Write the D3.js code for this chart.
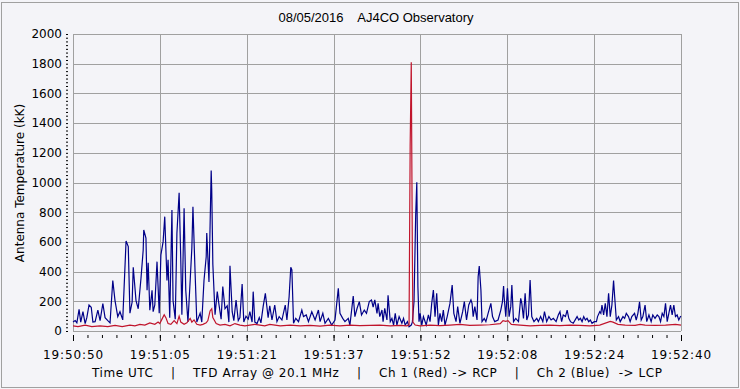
<!DOCTYPE html>
<html>
<head>
<meta charset="utf-8">
<script src="https://cdn.jsdelivr.net/npm/d3@7"></script>
<style>
  body { margin: 0; background: #f4f4f8; }
  svg { display: block; }
</style>
</head>
<body>
<div id="chart"></div>
<script>
// chart text
var titleText = "08/05/2016    AJ4CO Observatory";
var yTitle = "Antenna Temperature (kK)";
var footerText = "Time UTC    |    TFD Array @ 20.1 MHz    |    Ch 1 (Red) -> RCP    |    Ch 2 (Blue)  -> LCP";

// x axis: seconds after 19:50:50, 7 equal intervals over 110 s
var timeSpan = [0, 110];
var timeLabels = ["19:50:50", "19:51:05", "19:51:21", "19:51:37", "19:51:52", "19:52:08", "19:52:24", "19:52:40"];
var yTicks = [0, 200, 400, 600, 800, 1000, 1200, 1400, 1600, 1800, 2000];

// Ch 2 (Blue) -> LCP   [seconds, kK]
var lcp = [
  [0.0,60],[0.4,70],[0.7,55],[1.1,146],[1.4,60],[1.8,130],[2.2,50],[2.5,90],[2.9,175],[3.3,160],
  [3.6,60],[4.0,63],[4.5,140],[4.9,70],[5.4,185],[5.8,90],[6.3,70],[6.7,55],[7.2,340],[7.6,205],
  [8.1,97],[8.5,130],[9.0,75],[9.6,606],[10.0,568],[10.3,120],[10.7,195],[10.9,429],[11.4,205],[11.8,150],
  [12.3,355],[12.7,545],[12.8,680],[13.2,625],[13.4,274],[13.6,460],[13.9,140],[14.3,274],[14.5,130],[14.8,175],
  [15.2,467],[15.6,120],[15.9,512],[16.3,600],[16.6,770],[17.0,340],[17.2,480],[17.5,90],[17.9,815],[18.1,205],
  [18.5,80],[18.8,658],[19.2,931],[19.5,480],[19.7,110],[20.1,826],[20.4,274],[20.8,60],[21.2,340],[21.5,557],
  [21.7,837],[22.1,380],[22.4,60],[23.0,120],[23.3,60],[23.7,340],[24.1,500],[24.2,660],[24.6,330],[25.0,1080],
  [25.1,950],[25.3,450],[25.7,110],[26.1,265],[26.4,180],[26.8,80],[27.1,300],[27.5,150],[27.9,170],[28.2,60],
  [28.4,440],[28.8,130],[29.1,70],[29.5,209],[29.9,70],[30.2,90],[30.6,316],[30.9,60],[31.3,100],[31.7,80],
  [32.0,130],[32.4,60],[32.6,265],[32.9,60],[33.3,50],[33.7,90],[34.0,55],[34.4,164],[34.8,254],[35.3,90],
  [35.6,170],[36.0,74],[36.5,175],[36.9,63],[37.3,97],[37.8,74],[38.4,175],[38.7,74],[39.1,231],[39.4,429],
  [39.6,411],[39.9,52],[40.3,85],[40.8,63],[41.4,141],[41.7,97],[42.2,108],[42.6,63],[43.2,130],[43.8,74],
  [44.4,141],[44.7,63],[45.2,119],[45.6,52],[46.2,85],[46.8,40],[47.4,74],[48.0,287],[48.3,119],[48.8,85],
  [49.2,63],[49.8,85],[50.1,40],[50.7,236],[51.0,97],[51.4,153],[51.8,198],[52.2,108],[52.7,141],[53.1,119],
  [53.6,198],[54.0,209],[54.3,160],[54.6,209],[55.0,119],[55.2,186],[55.5,97],[55.9,141],[56.1,63],[56.4,153],
  [56.8,74],[57.0,240],[57.4,63],[57.7,85],[58.0,40],[58.3,119],[58.6,40],[59.0,97],[59.5,52],[59.8,85],
  [60.1,40],[60.5,63],[60.8,29],[61.2,40],[61.4,60],[61.7,200],[62.0,781],[62.2,1001],[62.4,298],[62.6,63],
  [62.8,119],[63.1,40],[63.4,97],[63.9,40],[64.3,108],[64.6,63],[64.9,186],[65.2,276],[65.5,97],[65.8,254],
  [66.1,40],[66.4,119],[66.7,63],[67.0,141],[67.3,40],[67.7,97],[68.2,186],[68.6,309],[68.9,119],[69.3,63],
  [69.6,164],[70.0,52],[70.5,130],[70.8,198],[71.2,74],[71.6,175],[72.0,209],[72.2,186],[72.4,97],[72.7,164],
  [73.1,74],[73.3,366],[73.5,438],[73.8,276],[74.0,63],[74.4,85],[74.7,63],[75.1,119],[75.6,186],[75.9,97],
  [76.3,63],[76.9,74],[77.4,141],[77.7,198],[77.9,303],[78.0,231],[78.3,97],[78.6,287],[78.9,97],[79.2,164],
  [79.4,309],[79.7,63],[80.1,85],[80.6,63],[81.0,220],[81.2,186],[81.5,85],[81.8,254],[82.1,74],[82.4,108],
  [82.7,343],[83.0,97],[83.4,63],[83.9,85],[84.2,63],[84.6,97],[85.0,63],[85.3,130],[85.7,63],[86.1,97],
  [86.5,74],[86.9,85],[87.4,63],[87.8,108],[88.1,130],[88.4,63],[88.7,108],[89.1,97],[89.4,141],[89.7,85],
  [90.0,63],[90.5,52],[91.2,97],[91.5,74],[91.8,85],[92.1,63],[92.4,97],[92.7,74],[93.0,85],[93.3,63],
  [93.6,74],[93.9,52],[94.3,63],[94.7,63],[94.9,97],[95.3,130],[95.5,119],[95.7,175],[96.0,108],[96.3,186],
  [96.6,97],[96.9,254],[97.2,97],[97.5,175],[97.8,339],[98.0,231],[98.3,74],[98.7,97],[99.0,63],[99.5,97],
  [99.8,85],[100.1,119],[100.5,97],[100.8,63],[101.1,97],[101.6,119],[101.9,74],[102.2,119],[102.5,196],[102.8,74],
  [103.1,97],[103.5,175],[103.8,63],[104.2,108],[104.6,63],[104.9,108],[105.3,85],[105.7,108],[106.0,97],[106.3,63],
  [106.6,119],[106.9,97],[107.2,186],[107.5,63],[107.8,119],[108.1,175],[108.4,108],[108.7,175],[109.0,97],[109.3,108],
  [109.6,74],[109.9,97],[110.0,100]
];

// Ch 1 (Red) -> RCP   [seconds, kK]
var rcp = [
  [0.0,35],[0.9,30],[2.2,40],[3.4,30],[4.9,35],[6.3,30],[7.6,38],[8.9,30],[10.3,40],[11.2,35],
  [12.1,45],[13.0,40],[13.9,55],[14.8,45],[15.4,60],[15.7,50],[16.1,80],[16.5,110],[16.8,90],[17.2,50],
  [17.7,45],[18.3,70],[18.8,50],[19.2,100],[19.5,60],[20.1,45],[20.6,55],[21.2,85],[21.5,60],[21.9,75],
  [22.4,45],[23.0,40],[23.5,45],[24.1,55],[24.4,70],[24.8,135],[25.1,150],[25.3,90],[25.9,50],[26.6,40],
  [27.5,45],[28.4,35],[29.3,50],[30.2,40],[31.1,35],[32.0,40],[32.9,45],[33.8,40],[34.7,35],[35.6,45],
  [37.5,35],[39.3,40],[41.1,35],[42.9,38],[44.7,33],[46.5,40],[48.3,35],[50.1,40],[51.9,36],[53.7,38],
  [55.5,40],[57.4,35],[59.2,38],[60.4,35],[60.8,40],[61.0,1250],[61.2,1810],[61.4,500],[61.5,60],[61.9,40],
  [62.8,35],[64.6,40],[66.4,36],[68.2,40],[70.0,45],[71.8,38],[73.6,40],[75.4,42],[77.3,50],[77.8,70],
  [78.3,65],[78.7,70],[79.3,45],[80.9,40],[82.7,35],[84.5,38],[86.3,40],[88.1,36],[89.9,40],[91.7,38],
  [93.5,35],[95.3,40],[97.2,65],[97.7,60],[98.6,45],[99.9,40],[101.7,38],[102.6,45],[103.5,40],[105.3,38],
  [107.2,40],[109.0,45],[110.0,40]
];

var W = 740, H = 389;
var margin = {top: 34, right: 59, bottom: 58, left: 73},
    width = W - margin.left - margin.right,
    height = H - margin.top - margin.bottom;

var svg = d3.select("#chart")
  .append("svg")
    .attr("width", W)
    .attr("height", H);

svg.append("rect")
  .attr("x", 1.5).attr("y", 2.5)
  .attr("width", W - 3).attr("height", H - 4)
  .attr("fill", "#f4f4f8")
  .attr("stroke", "#a0a0a0");

var g = svg.append("g")
  .attr("transform", "translate(" + margin.left + "," + margin.top + ")");

var x = d3.scaleLinear().domain(timeSpan).range([0, width]);
var y = d3.scaleLinear().domain([0, 2000]).range([height, 0]);

var step = (timeSpan[1] - timeSpan[0]) / (timeLabels.length - 1);
var majors = timeLabels.map(function(d, i) { return timeSpan[0] + i * step; });
var minors = d3.range(0, (timeLabels.length - 1) * 6 + 1).map(function(i) { return i * step / 6; });

// grid
g.append("g").selectAll("line")
  .data(yTicks).enter().append("line")
    .attr("x1", 0).attr("x2", width)
    .attr("y1", function(d) { return Math.round(y(d)) + 0.5; })
    .attr("y2", function(d) { return Math.round(y(d)) + 0.5; })
    .attr("stroke", "#a0a0a0");
g.append("g").selectAll("line")
  .data(majors).enter().append("line")
    .attr("y1", 0).attr("y2", height)
    .attr("x1", function(d) { return Math.round(x(d)) + 0.5; })
    .attr("x2", function(d) { return Math.round(x(d)) + 0.5; })
    .attr("stroke", "#a0a0a0");

// x axis
var xMinor = g.append("g")
  .attr("transform", "translate(0," + (height + 4) + ")")
  .call(d3.axisBottom(x).tickValues(minors).tickSize(3).tickSizeOuter(0).tickFormat(""));
var xMajor = g.append("g")
  .attr("transform", "translate(0," + (height + 4) + ")")
  .call(d3.axisBottom(x).tickValues(majors).tickSize(6).tickSizeOuter(0).tickPadding(9)
        .tickFormat(function(d, i) { return timeLabels[i]; }));
[xMinor, xMajor].forEach(function(a) {
  a.select(".domain").remove();
  a.selectAll("line").attr("stroke", "#000");
});
xMajor.selectAll("text")
  .style("font-family", "DejaVu Sans")
  .style("font-size", "12px")
  .style("letter-spacing", "0.9px")
  .attr("fill", "#000");

// y axis
var yAxis = g.append("g")
  .attr("transform", "translate(-5,0)")
  .call(d3.axisLeft(y).tickValues(d3.range(0, 2001, 25)).tickSize(2).tickPadding(4).tickSizeOuter(0)
        .tickFormat(function(d) { return d % 200 === 0 ? d : ""; }));
yAxis.select(".domain").remove();
yAxis.selectAll("line").attr("stroke", "#000");
yAxis.selectAll("text")
  .style("font-family", "DejaVu Sans")
  .style("font-size", "12px")
  .attr("fill", "#000");

// series
var line = d3.line()
  .x(function(d) { return x(d[0]); })
  .y(function(d) { return y(d[1]); });

g.append("path")
  .datum(lcp)
  .attr("d", line)
  .attr("fill", "none")
  .attr("stroke", "#000088")
  .attr("stroke-width", 1.2);

g.append("path")
  .datum(rcp)
  .attr("d", line)
  .attr("fill", "none")
  .attr("stroke", "#c0142c")
  .attr("stroke-width", 1.2);

// texts
svg.append("text")
  .attr("x", 376).attr("y", 22)
  .attr("text-anchor", "middle")
  .attr("fill", "#000")
  .style("white-space", "pre")
  .style("font-family", "Liberation Sans")
  .style("font-size", "13px")
  .text(titleText);

svg.append("text")
  .attr("transform", "translate(20,183) rotate(-90)")
  .attr("dy", "0.35em")
  .attr("text-anchor", "middle")
  .attr("fill", "#000")
  .style("font-family", "DejaVu Sans")
  .style("font-size", "12px")
  .text(yTitle);

// footer; slight opacity keeps the thin "|" glyphs grey instead of colour-fringed
svg.append("text")
  .attr("x", 92).attr("y", 377)
  .attr("fill", "#000")
  .attr("opacity", 0.99)
  .attr("textLength", 570)
  .attr("lengthAdjust", "spacing")
  .style("white-space", "pre")
  .style("font-family", "DejaVu Sans")
  .style("font-size", "12px")
  .text(footerText);
</script>
</body>
</html>
